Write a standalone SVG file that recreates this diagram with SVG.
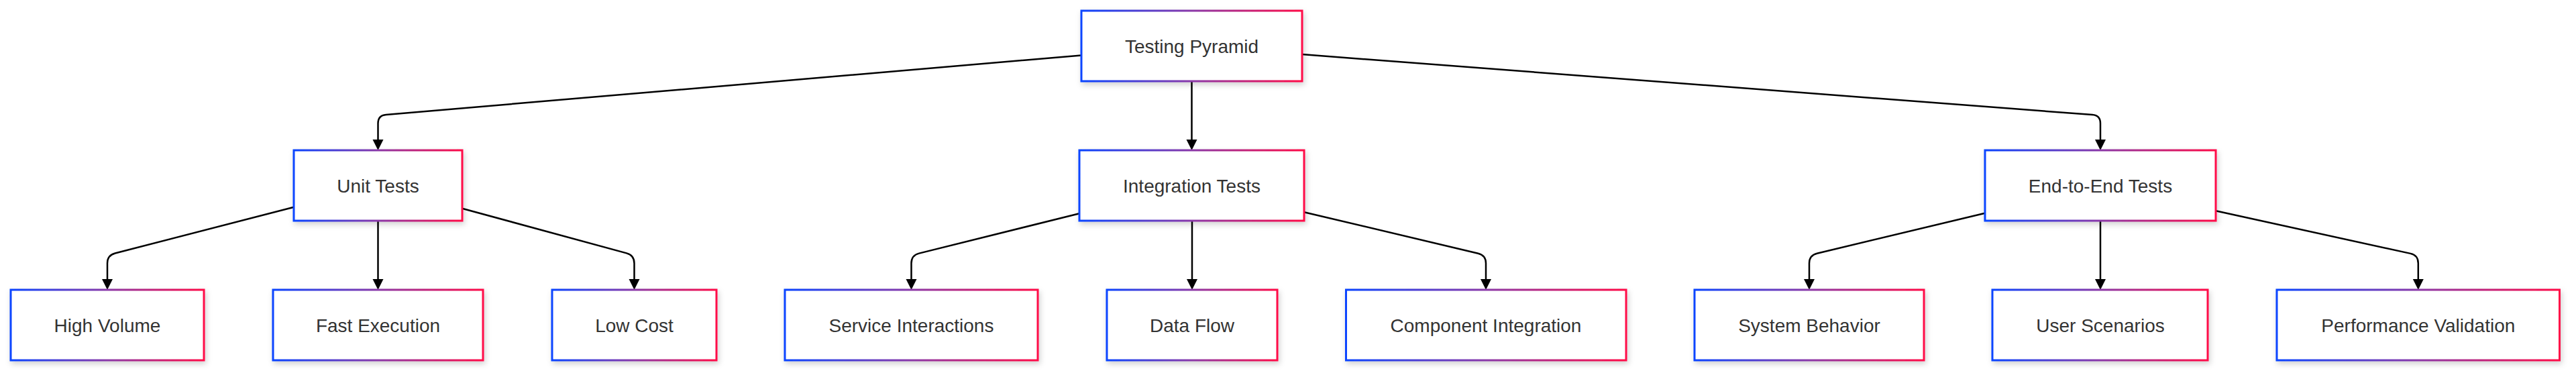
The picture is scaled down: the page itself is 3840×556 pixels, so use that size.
<svg xmlns="http://www.w3.org/2000/svg" width="3840" height="556" viewBox="0 0 3840 556">
<defs>
<linearGradient id="bg" x1="0" y1="0" x2="1" y2="0">
<stop offset="0" stop-color="#0a44ff"/>
<stop offset="0.5" stop-color="#8a38a8"/>
<stop offset="1" stop-color="#ff0a46"/>
</linearGradient>
<filter id="sh" x="-10%" y="-20%" width="120%" height="150%">
<feDropShadow dx="2" dy="4" stdDeviation="4" flood-color="#000" flood-opacity="0.18"/>
</filter>
<marker id="arr" markerUnits="userSpaceOnUse" viewBox="0 0 10 10" refX="0" refY="5" markerWidth="16" markerHeight="17" orient="auto">
<path d="M0,0 L10,5 L0,10 z" fill="#000"/>
</marker>
</defs>
<style>
.node rect{fill:#fff;stroke:url(#bg);stroke-width:3;filter:url(#sh)}
.node text{font-family:"Liberation Sans",Arial,sans-serif;font-size:28px;fill:#333;text-anchor:middle}
.edges path{fill:none;stroke:#000;stroke-width:2.5;marker-end:url(#arr)}
</style>
<rect width="3840" height="556" fill="#fff"/>
<g class="edges">
<path d="M1612,82.5 L575.5,171 Q563.5,172 563.5,184 L563.5,208"/>
<path d="M1776.5,121 L1776.5,208"/>
<path d="M1941,81.1 L3119,171.1 Q3131,172 3131,184 L3131,208"/>
<path d="M438,308.8 L171.6,377.5 Q160,380.5 160,392.5 L160,416"/>
<path d="M563.5,329 L563.5,416"/>
<path d="M689,310.7 L933.9,377.4 Q945.5,380.5 945.5,392.5 L945.5,416"/>
<path d="M1609,318.2 L1370.2,377.6 Q1358.5,380.5 1358.5,392.5 L1358.5,416"/>
<path d="M1777,329 L1777,416"/>
<path d="M1944,316.2 L2203.3,377.7 Q2215,380.5 2215,392.5 L2215,416"/>
<path d="M2959,317.7 L2708.7,377.7 Q2697,380.5 2697,392.5 L2697,416"/>
<path d="M3131,329 L3131,416"/>
<path d="M3303,314.3 L3593.1,377.9 Q3604.8,380.5 3604.8,392.5 L3604.8,416"/>
</g>
<g id="n-tp" class="node"><rect x="1612" y="16" width="329" height="105"/><text x="1776.5" y="78.5">Testing Pyramid</text></g>
<g id="n-ut" class="node"><rect x="438" y="224" width="251" height="105"/><text x="563.5" y="286.5">Unit Tests</text></g>
<g id="n-it" class="node"><rect x="1609" y="224" width="335" height="105"/><text x="1776.5" y="286.5">Integration Tests</text></g>
<g id="n-e2e" class="node"><rect x="2959" y="224" width="344" height="105"/><text x="3131" y="286.5">End-to-End Tests</text></g>
<g id="n-hv" class="node"><rect x="16" y="432" width="288" height="105"/><text x="160" y="494.5">High Volume</text></g>
<g id="n-fe" class="node"><rect x="407" y="432" width="313" height="105"/><text x="563.5" y="494.5">Fast Execution</text></g>
<g id="n-lc" class="node"><rect x="823" y="432" width="245" height="105"/><text x="945.5" y="494.5">Low Cost</text></g>
<g id="n-si" class="node"><rect x="1170" y="432" width="377" height="105"/><text x="1358.5" y="494.5">Service Interactions</text></g>
<g id="n-df" class="node"><rect x="1650" y="432" width="254" height="105"/><text x="1777" y="494.5">Data Flow</text></g>
<g id="n-ci" class="node"><rect x="2006.5" y="432" width="417.5" height="105"/><text x="2215" y="494.5">Component Integration</text></g>
<g id="n-sb" class="node"><rect x="2526" y="432" width="342" height="105"/><text x="2697" y="494.5">System Behavior</text></g>
<g id="n-us" class="node"><rect x="2970" y="432" width="321" height="105"/><text x="3131" y="494.5">User Scenarios</text></g>
<g id="n-pv" class="node"><rect x="3394" y="432" width="421.5" height="105"/><text x="3604.8" y="494.5">Performance Validation</text></g>
</svg>
